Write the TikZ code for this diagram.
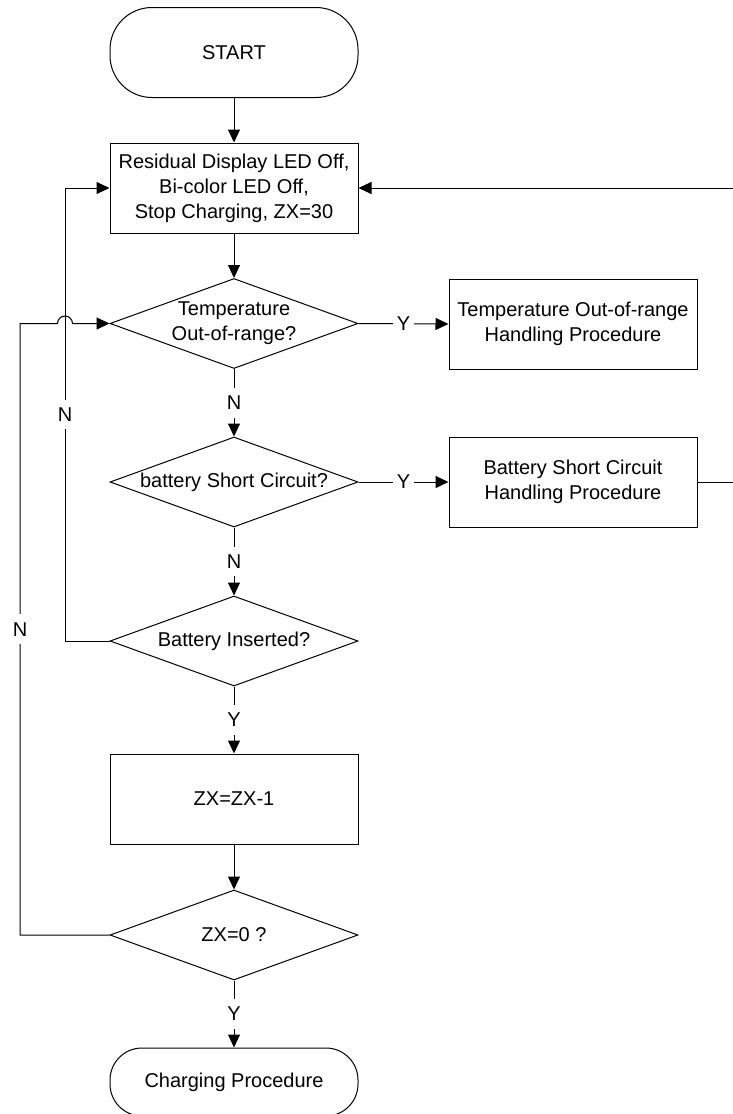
\documentclass[tikz,border=0pt]{standalone}
\usepackage{fontspec}
\setmainfont{Liberation Sans}
\usetikzlibrary{shapes.geometric,arrows.meta}

\begin{document}
\begin{tikzpicture}[x=0.5pt,y=-0.5pt,
  font=\fontsize{10pt}{12.5pt}\selectfont,
  line/.style={draw=black,line width=0.5pt},
  arr/.style={line,-{Triangle[length=6.5pt,width=6pt]}},
  procbox/.style={draw=black,line width=0.5pt,minimum width=124pt,minimum height=45pt,align=center,inner sep=0pt},
  term/.style={procbox,rounded corners=21pt},
  decision/.style={draw=black,line width=0.5pt,diamond,minimum width=124pt,minimum height=45pt,inner sep=0pt,
    label={[align=center]center:#1}},
  lbl/.style={fill=white,inner xsep=1.7pt,inner ysep=4pt}
]
% page frame
\fill[white] (0,0) rectangle (733,1114);
\useasboundingbox (0,0) rectangle (733,1114);

% flow steps
\node[term] (start) at (234,52.5) {START};
\node[procbox] (box1) at (234,188) {Residual Display LED Off,\\Bi-color LED Off,\\Stop Charging, ZX=30};
\node[decision={Temperature\\Out-of-range?}] (d1) at (234,323.5) {};
\node[procbox] (tbox) at (573,324) {Temperature Out-of-range\\Handling Procedure};
\node[decision={battery Short Circuit?}] (d2) at (234,482) {};
\node[procbox] (bbox) at (573,482) {Battery Short Circuit\\Handling Procedure};
\node[decision={Battery Inserted?}] (d3) at (234,641) {};
\node[procbox] (zx) at (234,799) {ZX=ZX-1};
\node[decision={ZX=0 ?}] (d4) at (234,935) {};
\node[term,minimum height=34pt,rounded corners=16pt] (chg) at (234,1082) {Charging Procedure};

% rails for the loop-back lines
\coordinate (iL) at (65,0);
\coordinate (oL) at (20,0);
\coordinate (hopA) at (57.5,0);
\coordinate (rR) at (745,0);

% main column
\draw[arr] (start.south) -- (box1.north);
\draw[arr] (box1.south) -- (d1.north);
\draw[arr] (d1.south) -- node[lbl]{N} (d2.north);
\draw[arr] (d2.south) -- node[lbl]{N} (d3.north);
\draw[arr] (d3.south) -- node[lbl]{Y} (zx.north);
\draw[arr] (zx.south) -- (d4.north);
\draw[arr] (d4.south) -- node[lbl]{Y} (chg.north);

% side branches
\draw[arr] (d1.east) -- node[lbl]{Y} (tbox.west);
\draw[arr] (d2.east) -- node[lbl]{Y} (bbox.west);
\draw[arr] (bbox.east) -- (bbox.east -| rR) -- (box1.east -| rR) -- (box1.east);

% loop-backs on the left
\draw[arr] (d3.west) -- (d3.west -| iL) -- node[lbl]{N} (box1.west -| iL) -- (box1.west);
\draw[arr] (d4.west) -- (d4.west -| oL) -- node[lbl]{N} (d1.west -| oL) -- (d1.west -| hopA)
  arc[start angle=180,end angle=0,radius=3.75pt] -- (d1.west);
\end{tikzpicture}
\end{document}
